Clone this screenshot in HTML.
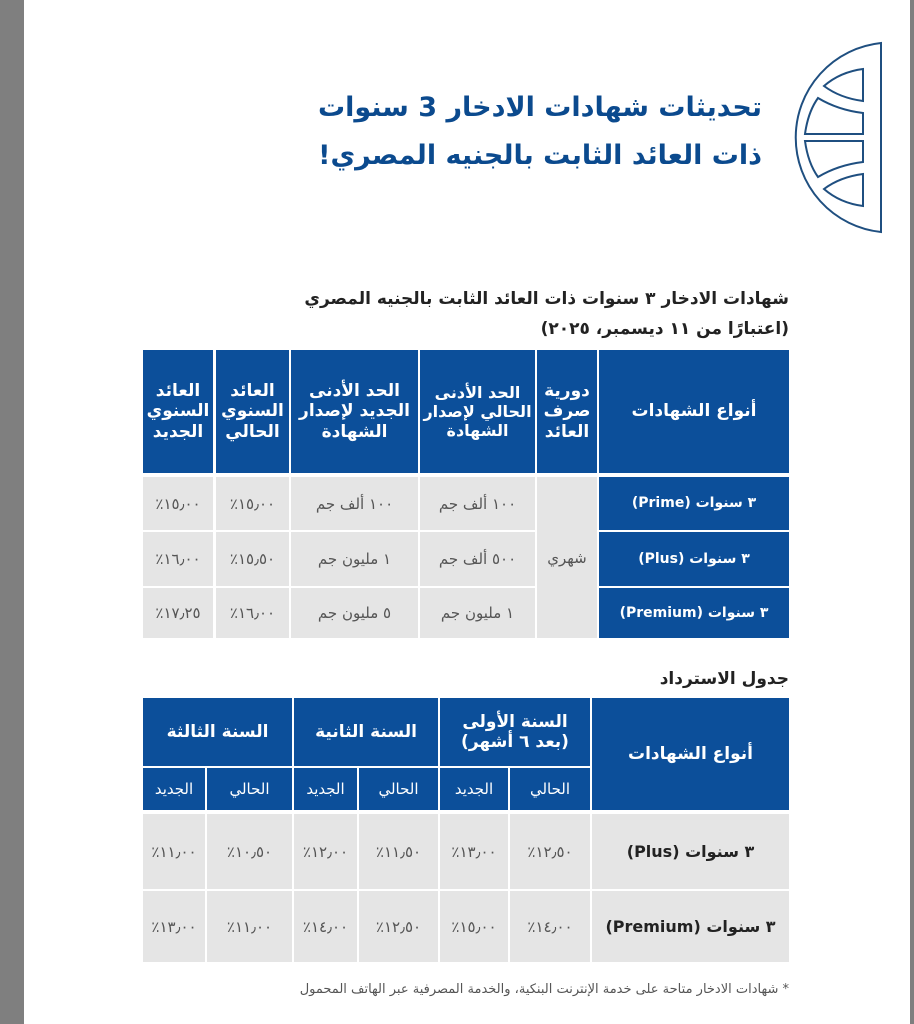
<!DOCTYPE html>
<html><head><meta charset="utf-8"><style>
body{margin:0;width:914px;height:1024px;background:#fff;position:relative;overflow:hidden;font-family:"DejaVu Sans","Liberation Sans",sans-serif;}
.g{position:absolute;background:#7f7f7f;top:0;height:1024px}
.c{position:absolute;display:flex;align-items:center;justify-content:center;text-align:center;direction:rtl;box-sizing:border-box;line-height:1.2}
.b{background:#0c4f9a;color:#fff;font-weight:bold;font-size:17px}
.l{background:#e5e5e5;color:#555;font-size:15px}
.t{position:absolute;direction:rtl;text-align:right;font-weight:bold}
</style></head><body>
<div class="g" style="left:0;width:24px"></div>
<div class="g" style="left:910px;width:4px"></div>
<svg style="position:absolute;left:770px;top:38px" width="120" height="200" viewBox="770 38 120 200" fill="none" stroke="#1f4f80" stroke-width="2">
<path d="M881 43 A95 95 0 0 0 881 232 Z"/>
<path d="M863 69 L863 101 Q840 98 824 86 Q840 72 863 69Z"/>
<path d="M863 113 L863 134 L805 134 Q808 112 818 98 Q838 110 863 113Z"/>
<path d="M863 206 L863 174 Q840 177 824 189 Q840 203 863 206Z"/>
<path d="M863 162 L863 141 L805 141 Q808 163 818 177 Q838 165 863 162Z"/>
</svg>
<div class="t" style="right:152px;top:92px;font-size:27px;color:#0b4a8e">تحديثات شهادات الادخار 3 سنوات</div>
<div class="t" style="right:152px;top:140px;font-size:27px;color:#0b4a8e">ذات العائد الثابت بالجنيه المصري!</div>
<div class="t" style="right:125px;top:289px;font-size:17px;color:#222">شهادات الادخار ٣ سنوات ذات العائد الثابت بالجنيه المصري</div>
<div class="t" style="right:125px;top:319px;font-size:17px;color:#222">(اعتبارًا من ١١ ديسمبر، ٢٠٢٥)</div>

<div class="c b" style="left:143px;top:350px;width:70px;height:123px">العائد السنوي الجديد</div>
<div class="c b" style="left:216px;top:350px;width:73px;height:123px">العائد السنوي الحالي</div>
<div class="c b" style="left:291px;top:350px;width:127px;height:123px">الحد الأدنى الجديد لإصدار الشهادة</div>
<div class="c b" style="left:420px;top:350px;width:115px;height:123px;font-size:16px">الحد الأدنى الحالي لإصدار الشهادة</div>
<div class="c b" style="left:537px;top:350px;width:60px;height:123px">دورية صرف العائد</div>
<div class="c b" style="left:599px;top:350px;width:190px;height:123px">أنواع الشهادات</div>

<div class="c b" style="left:599px;top:477px;width:190px;height:53px;font-size:14px">٣ سنوات (Prime)</div>
<div class="c b" style="left:599px;top:532px;width:190px;height:54px;font-size:14px">٣ سنوات (Plus)</div>
<div class="c b" style="left:599px;top:588px;width:190px;height:50px;font-size:14px">٣ سنوات (Premium)</div>
<div class="c l" style="left:537px;top:477px;width:60px;height:161px">شهري</div>
<div class="c l" style="left:420px;top:477px;width:115px;height:53px">١٠٠ ألف جم</div>
<div class="c l" style="left:420px;top:532px;width:115px;height:54px">٥٠٠ ألف جم</div>
<div class="c l" style="left:420px;top:588px;width:115px;height:50px">١ مليون جم</div>
<div class="c l" style="left:291px;top:477px;width:127px;height:53px">١٠٠ ألف جم</div>
<div class="c l" style="left:291px;top:532px;width:127px;height:54px">١ مليون جم</div>
<div class="c l" style="left:291px;top:588px;width:127px;height:50px">٥ مليون جم</div>
<div class="c l" style="left:216px;top:477px;width:73px;height:53px">١٥٫٠٠٪</div>
<div class="c l" style="left:216px;top:532px;width:73px;height:54px">١٥٫٥٠٪</div>
<div class="c l" style="left:216px;top:588px;width:73px;height:50px">١٦٫٠٠٪</div>
<div class="c l" style="left:143px;top:477px;width:70px;height:53px">١٥٫٠٠٪</div>
<div class="c l" style="left:143px;top:532px;width:70px;height:54px">١٦٫٠٠٪</div>
<div class="c l" style="left:143px;top:588px;width:70px;height:50px">١٧٫٢٥٪</div>

<div class="t" style="right:125px;top:669px;font-size:17px;color:#222">جدول الاسترداد</div>

<div class="c b" style="left:592px;top:698px;width:197px;height:112px">أنواع الشهادات</div>
<div class="c b" style="left:440px;top:698px;width:150px;height:68px">السنة الأولى<br>(بعد ٦ أشهر)</div>
<div class="c b" style="left:294px;top:698px;width:144px;height:68px">السنة الثانية</div>
<div class="c b" style="left:143px;top:698px;width:149px;height:68px">السنة الثالثة</div>
<div class="c b" style="left:510px;top:768px;width:80px;height:42px;font-weight:normal;font-size:15px">الحالي</div>
<div class="c b" style="left:440px;top:768px;width:68px;height:42px;font-weight:normal;font-size:15px">الجديد</div>
<div class="c b" style="left:359px;top:768px;width:79px;height:42px;font-weight:normal;font-size:15px">الحالي</div>
<div class="c b" style="left:294px;top:768px;width:63px;height:42px;font-weight:normal;font-size:15px">الجديد</div>
<div class="c b" style="left:207px;top:768px;width:85px;height:42px;font-weight:normal;font-size:15px">الحالي</div>
<div class="c b" style="left:143px;top:768px;width:62px;height:42px;font-weight:normal;font-size:15px">الجديد</div>

<div class="c l" style="left:592px;top:814px;width:197px;height:75px;color:#222;font-weight:bold;font-size:16px">٣ سنوات (Plus)</div>
<div class="c l" style="left:592px;top:891px;width:197px;height:71px;color:#222;font-weight:bold;font-size:16px">٣ سنوات (Premium)</div>
<div class="c l" style="left:510px;top:814px;width:80px;height:75px">١٢٫٥٠٪</div>
<div class="c l" style="left:440px;top:814px;width:68px;height:75px">١٣٫٠٠٪</div>
<div class="c l" style="left:359px;top:814px;width:79px;height:75px">١١٫٥٠٪</div>
<div class="c l" style="left:294px;top:814px;width:63px;height:75px">١٢٫٠٠٪</div>
<div class="c l" style="left:207px;top:814px;width:85px;height:75px">١٠٫٥٠٪</div>
<div class="c l" style="left:143px;top:814px;width:62px;height:75px">١١٫٠٠٪</div>
<div class="c l" style="left:510px;top:891px;width:80px;height:71px">١٤٫٠٠٪</div>
<div class="c l" style="left:440px;top:891px;width:68px;height:71px">١٥٫٠٠٪</div>
<div class="c l" style="left:359px;top:891px;width:79px;height:71px">١٢٫٥٠٪</div>
<div class="c l" style="left:294px;top:891px;width:63px;height:71px">١٤٫٠٠٪</div>
<div class="c l" style="left:207px;top:891px;width:85px;height:71px">١١٫٠٠٪</div>
<div class="c l" style="left:143px;top:891px;width:62px;height:71px">١٣٫٠٠٪</div>

<div class="t" style="right:125px;top:982px;font-size:13px;color:#555;font-weight:normal">* شهادات الادخار متاحة على خدمة الإنترنت البنكية، والخدمة المصرفية عبر الهاتف المحمول</div>
</body></html>
